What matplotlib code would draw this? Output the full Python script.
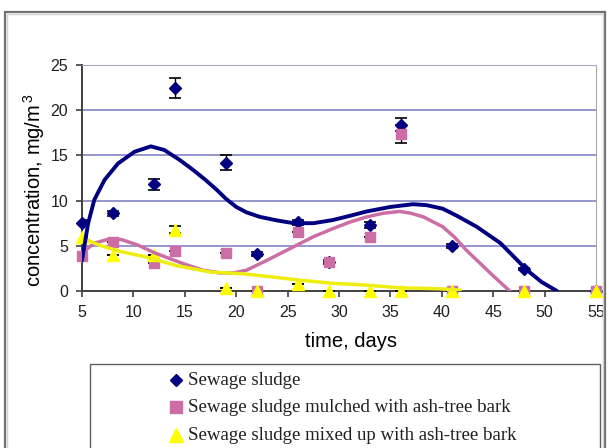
import matplotlib.pyplot as plt
from matplotlib.patches import Rectangle
from matplotlib.lines import Line2D

plt.rcParams['font.family'] = ['Liberation Sans', 'DejaVu Sans']
plt.rcParams['mathtext.fontset'] = 'custom'
plt.rcParams['mathtext.rm'] = 'Liberation Sans'
plt.rcParams['mathtext.default'] = 'regular'

# measured points
days = [5, 8, 12, 14, 19, 22, 26, 29, 33, 36, 41, 48, 55]
sludge = [7.5, 8.6, 11.8, 22.5, 14.2, 4.1, 7.6, 3.2, 7.3, 18.4, 5.0, 2.4, 0.0]
sludge_err = [0.3, 0.3, 0.6, 1.1, 0.8, 0.2, 0.3, 0.2, 0.3, 0.7, 0.2, 0.1, 0.0]
mulched = [3.9, 5.4, 3.1, 4.4, 4.2, 0.0, 6.5, 3.2, 6.0, 17.4, 0.0, 0.0, 0.0]
mulched_err = [0, 0, 0, 0, 0, 0, 0, 0, 0, 1.0, 0, 0, 0]
mixed = [6.0, 4.0, 4.0, 6.8, 0.3, 0.0, 0.8, 0.0, 0.0, 0.0, 0.0, 0.0, 0.0]
mixed_err = [0, 0, 0, 0.4, 0, 0, 0, 0, 0, 0, 0, 0, 0]

# trend lines
trend1_x = [5, 5.6, 6.2, 7.2, 8.5, 10.1, 11.7, 13.0, 14.5, 15.8, 17.0, 18.1,
            19.0, 20.0, 21.0, 22.3, 24.0, 25.6, 27.5, 29.4, 31.0, 32.7, 35.0,
            37.2, 38.5, 40.1, 41.5, 43.4, 45.7, 47.0, 48.3, 49.7, 51.2]
trend1_y = [3.4, 7.5, 10.1, 12.3, 14.1, 15.4, 16.0, 15.6, 14.5, 13.4, 12.3, 11.2,
            10.2, 9.3, 8.7, 8.2, 7.8, 7.5, 7.5, 7.85, 8.3, 8.8, 9.3,
            9.6, 9.5, 9.1, 8.3, 7.1, 5.3, 3.8, 2.3, 1.0, 0.0]
trend2_x = [5, 6.2, 7.5, 8.8, 10.4, 12.1, 13.5, 14.9, 16.8, 18.4, 19.7, 21.0,
            23.0, 25.6, 27.5, 29.4, 31.0, 32.7, 34.3, 35.9, 37.0, 38.2, 40.1,
            41.2, 42.4, 43.6, 44.7, 46.6]
trend2_y = [4.2, 5.3, 5.7, 5.7, 5.1, 4.2, 3.6, 3.0, 2.3, 2.0, 2.0, 2.3,
            3.4, 4.9, 6.0, 6.9, 7.6, 8.2, 8.6, 8.8, 8.6, 8.2, 7.1,
            6.0, 4.5, 3.2, 2.0, 0.0]
trend3_x = [5, 6.6, 8.8, 11.1, 13.0, 14.2, 17.5, 20.7, 23.9, 26.2, 29.4, 32.7,
            35.9, 39.8, 41.8]
trend3_y = [5.9, 5.1, 4.35, 3.8, 3.2, 2.8, 2.1, 1.9, 1.5, 1.2, 0.85, 0.65,
            0.35, 0.25, 0.1]

navy = '#000080'
pink = '#cc6ea6'
yellow = '#ffff00'

fig = plt.figure(figsize=(6.09, 4.48), dpi=100)
ax = fig.add_axes([82/609, 1-291/448, 514/609, 226/448])

for yv in [5, 10, 15, 20, 25]:
    ax.axhline(yv, color='#8484c8', lw=1.2, zorder=1)

ax.errorbar(days, sludge, yerr=sludge_err, fmt='none', ecolor='black',
            elinewidth=1.0, capsize=4, capthick=1.2, zorder=3)
ax.errorbar(days, mulched, yerr=mulched_err, fmt='none', ecolor='black',
            elinewidth=1.0, capsize=4, capthick=1.2, zorder=3)
ax.errorbar(days, mixed, yerr=mixed_err, fmt='none', ecolor='black',
            elinewidth=1.0, capsize=4, capthick=1.2, zorder=3)

ax.plot(days, sludge, 'D', color=navy, ms=6.5, clip_on=False, zorder=4)
ax.plot(days, mulched, 's', color=pink, ms=7.5, clip_on=False, zorder=4)
ax.plot(days, mixed, '^', color=yellow, ms=9, clip_on=False, zorder=5)

ax.plot(trend2_x, trend2_y, color=pink, lw=2.5, solid_capstyle='round',
        solid_joinstyle='round', zorder=6)
ax.plot(trend3_x, trend3_y, color='#eeee10', lw=2.5, solid_capstyle='round',
        solid_joinstyle='round', zorder=6)
ax.plot(trend1_x, trend1_y, color=navy, lw=2.8, solid_capstyle='round',
        solid_joinstyle='round', zorder=7)

ax.set_xlim(5, 55)
ax.set_ylim(0, 25)
ax.set_xticks(range(5, 56, 5))
ax.set_yticks(range(0, 26, 5))
ax.tick_params(axis='both', labelsize=11.5, direction='out', length=4,
               color='#404040', width=1.2, labelcolor='#202020')
ax.tick_params(axis='x', pad=6)
ax.tick_params(axis='y', pad=6)

ax.spines['left'].set_color('#404040')
ax.spines['bottom'].set_color('#404040')
ax.spines['left'].set_linewidth(1.4)
ax.spines['bottom'].set_linewidth(1.4)
ax.spines['top'].set_color('#a8a8c8')
ax.spines['right'].set_color('#a8a8a8')

ax.set_xlabel('time, days', fontsize=14.5)
ax.xaxis.set_label_coords(0.523, -0.18)
ax.set_ylabel('concentration, mg/m$^{\\,3}$', fontsize=14.5)
ax.yaxis.set_label_coords(-0.068, 0.447)

# outer chart frame
fig.patches.append(Rectangle((5/609, -0.05), 600/609, 1.05-12/448,
                             transform=fig.transFigure, fill=False,
                             edgecolor='#707070', lw=1.6))
fig.patches.append(Rectangle((7/609, -0.05), 596/609, 1.05-14/448,
                             transform=fig.transFigure, fill=False,
                             edgecolor='#d0d0d0', lw=1.0))

# legend box and entries
fig.patches.append(Rectangle((90/609, -0.05), 510/609, 0.05+1-364/448,
                             transform=fig.transFigure, fill=False,
                             edgecolor='#606060', lw=1.0))

legend_markers = [('D', navy, 6), ('s', pink, 8), ('^', yellow, 9.5)]
legend_labels = ['Sewage sludge',
                 'Sewage sludge mulched with ash-tree bark',
                 'Sewage sludge mixed up with ash-tree bark']
legend_rows = [380, 407, 435]
for (mk, col, size), label, row in zip(legend_markers, legend_labels, legend_rows):
    fy = 1 - row/448
    fig.add_artist(Line2D([176/609], [fy], ls='none', marker=mk, color=col,
                          ms=size, transform=fig.transFigure))
    fig.text(188/609, fy, label, family='Liberation Serif', fontsize=13.6,
             va='center', ha='left', color='#202020')

fig.savefig('out.png', dpi=100)
